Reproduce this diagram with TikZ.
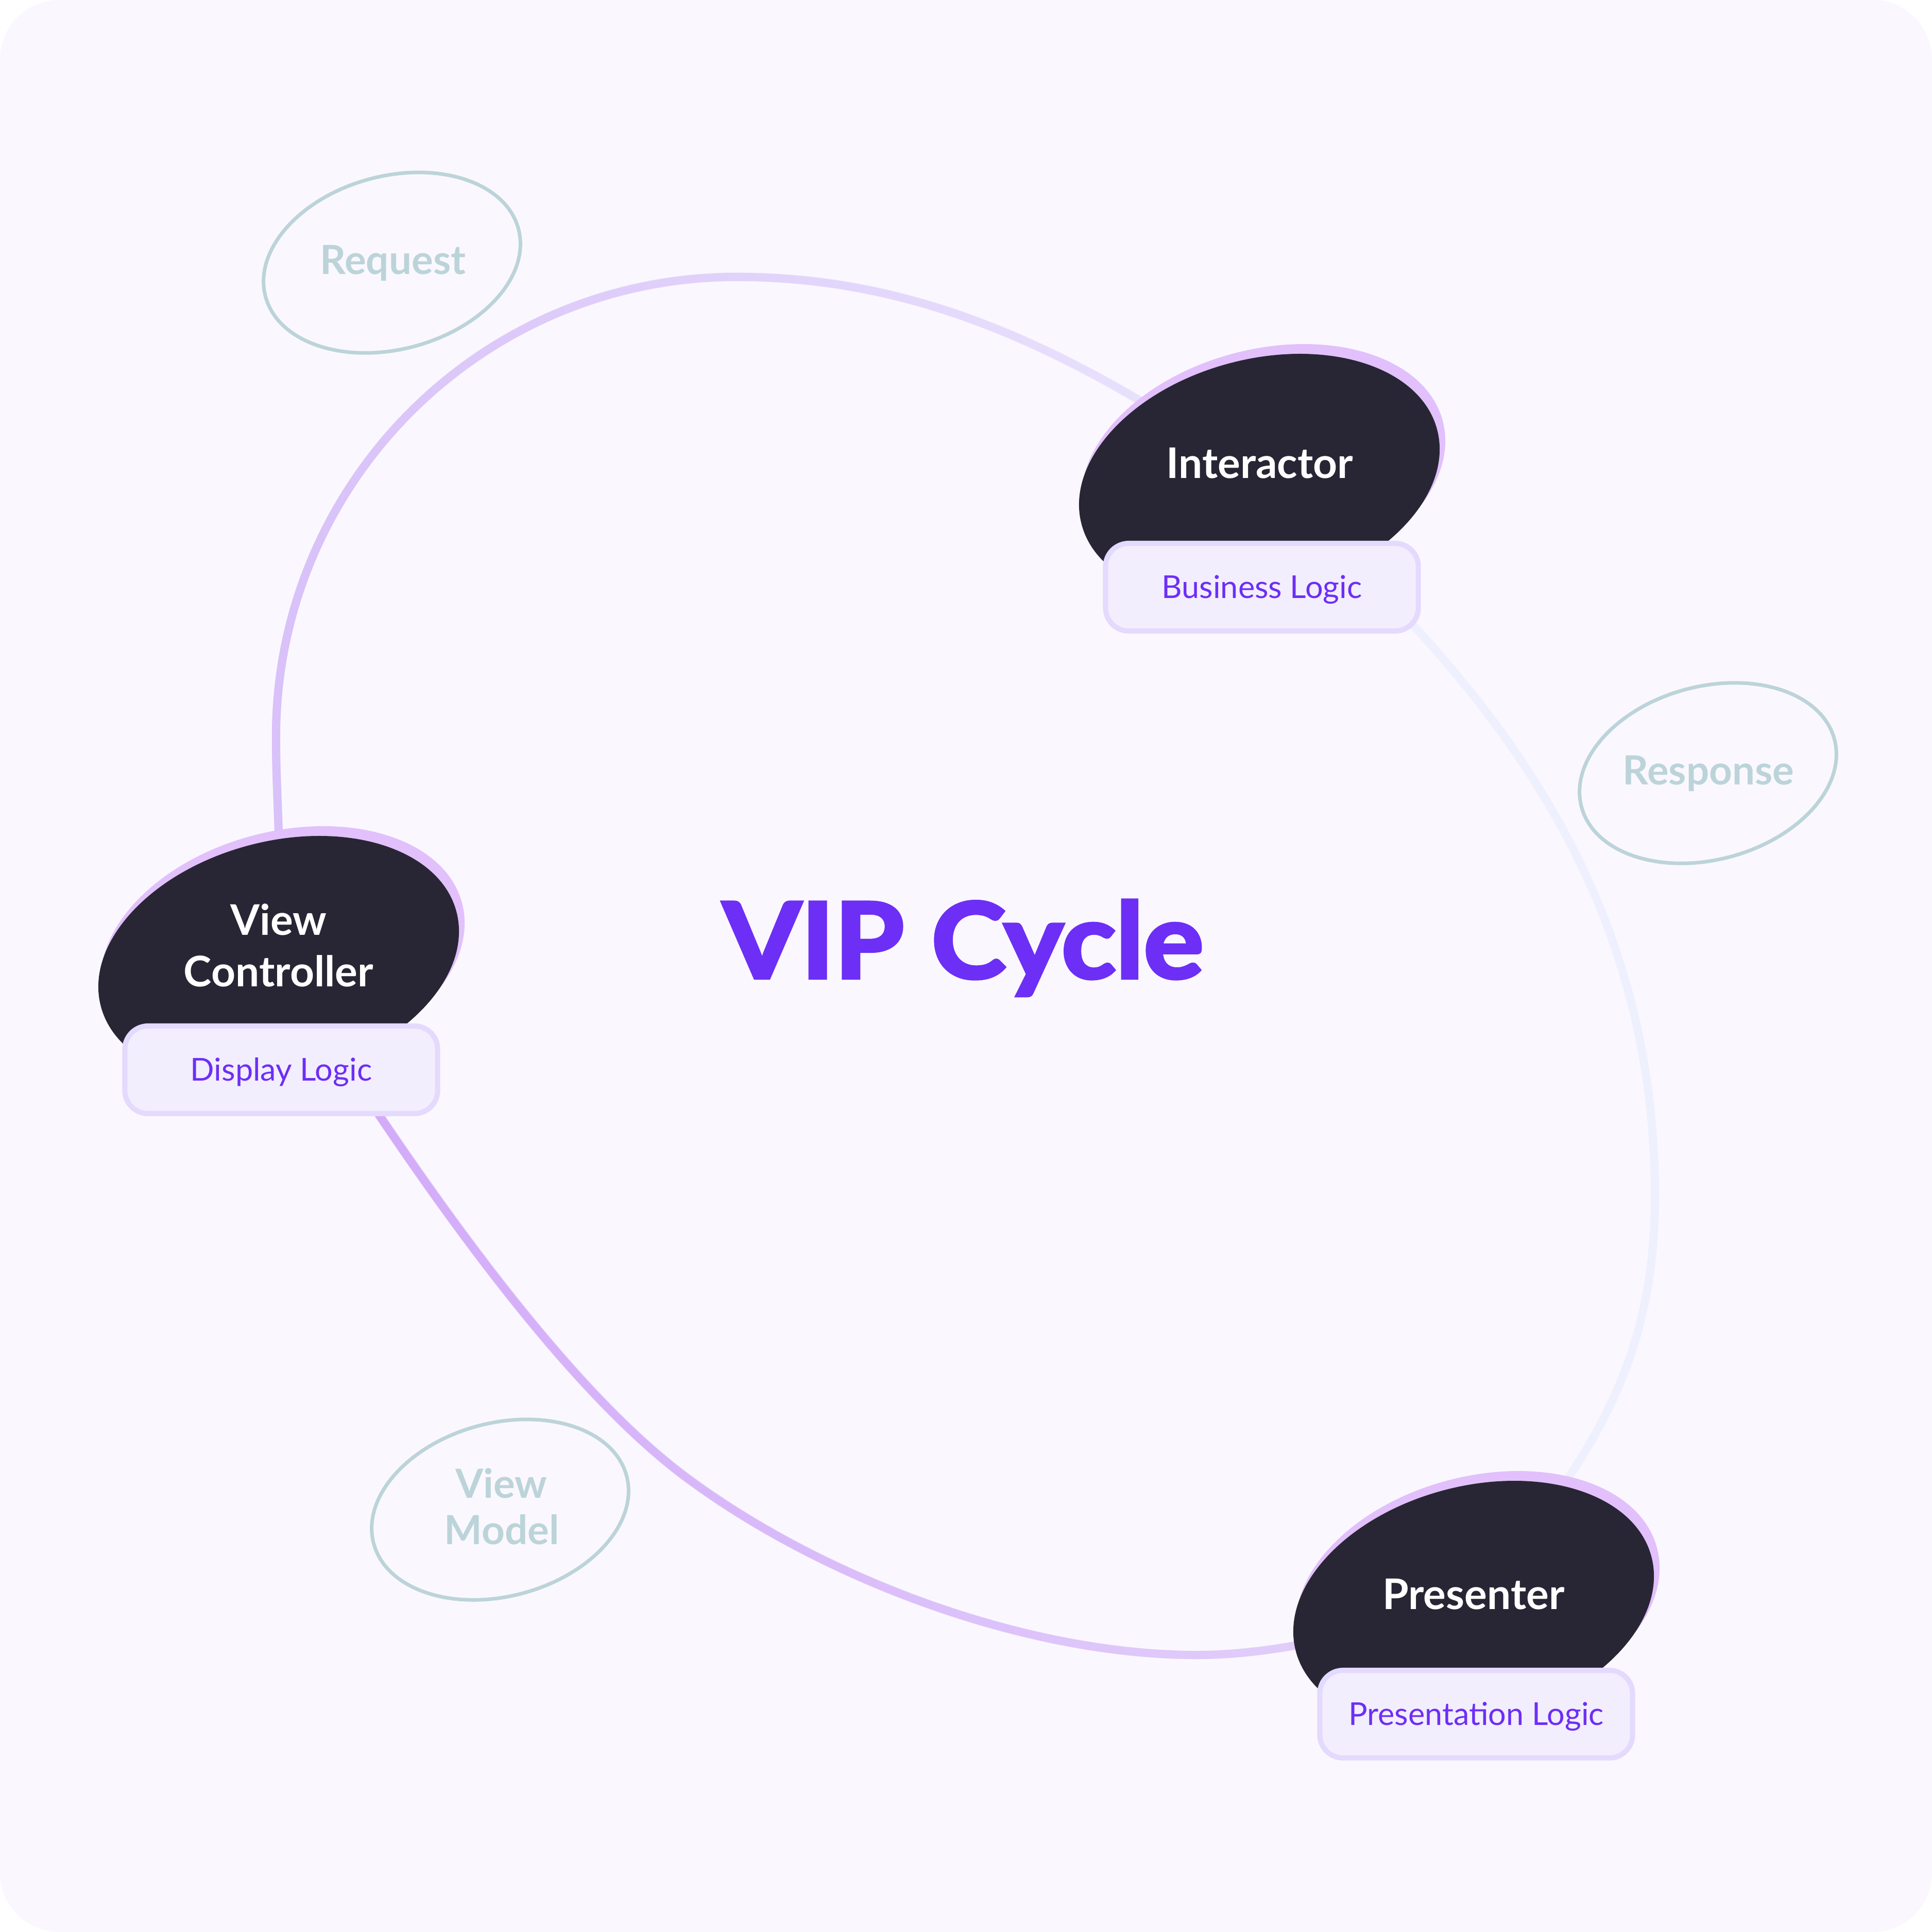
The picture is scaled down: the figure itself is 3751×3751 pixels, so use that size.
\documentclass[tikz,border=0pt]{standalone}
\usepackage{fontspec}
\setmainfont{Lato}
\newfontfamily\vipfont[FakeBold=3]{Lato}
\usetikzlibrary{shapes.geometric,fadings}
\definecolor{bgc}{HTML}{FAF8FE}
\definecolor{blobc}{HTML}{282634}
\definecolor{shc}{HTML}{E2C0FC}
\definecolor{boxfill}{HTML}{F2EEFE}
\definecolor{boxline}{HTML}{E3DAFD}
\definecolor{vip}{HTML}{6D2EF6}
\definecolor{tagc}{HTML}{BCD4D9}
\definecolor{leftA}{HTML}{D9C1F9}
\definecolor{leftB}{HTML}{EAE6FD}
\definecolor{rightc}{HTML}{EEF0FD}
\definecolor{botA}{HTML}{D2A8F9}
\definecolor{botB}{HTML}{E4D4FB}
\pgfdeclarelayer{back}
\pgfdeclarelayer{curves}
\pgfsetlayers{back,curves,main}
\tikzfading[name=fadeR, left color=transparent!0, right color=transparent!100]
\begin{document}
\begin{tikzpicture}[x=0.01cm,y=-0.01cm,
  blob/.style={ellipse, fill=blobc, inner sep=0pt, minimum width=7.14cm, minimum height=4.56cm, rotate=15},
  blobsh/.style={ellipse, fill=shc, inner sep=0pt, minimum width=7.20cm, minimum height=4.62cm, rotate=15},
  lbl/.style={text=white, font=\bfseries\fontsize{23.3}{28}\selectfont, inner sep=0pt, anchor=base},
  logic/.style={draw=boxline, fill=boxfill, line width=0.1cm, rounded corners=0.45cm, minimum width=6.07cm, minimum height=1.70cm, inner sep=0pt, text height=0.43cm, text depth=0cm, text=vip, font=\fontsize{17.4}{20}\selectfont},
  tag/.style={ellipse, draw=tagc, line width=0.07cm, inner sep=0pt, minimum width=5.08cm, minimum height=3.36cm, rotate=15},
  tagtext/.style={text=tagc, font=\bfseries\fontsize{22.2}{26}\selectfont, inner sep=0pt, anchor=base},
  arcline/.style={line width=0.16cm, line cap=round},
  fadearc/.style={path fading=fadeR}
]
\useasboundingbox (0,0) rectangle (3751,3751);
\begin{pgfonlayer}{back}
\fill[white] (0,0) rectangle (3751,3751);
\fill[bgc, rounded corners=1.15cm] (0,0) rectangle (3751,3751);
\end{pgfonlayer}

% tag ellipses
\node[tag] (reqe) at (761,510) {};
\node[tagtext] (req) at (763,532) {Request};
\node[tag] (rese) at (3316,1501) {};
\node[tagtext] (res) at (3317,1523) {Response};
\node[tag] (vme) at (971,2931) {};
\node[tagtext] (vm1) at (973,2908) {View};
\node[tagtext] (vm2) at (974,2998) {Model};

% blobs
\node[blobsh] (intsh) at (2453,910) {};
\node[blob] (int) at (2445,926) {};
\node[blobsh] (vcsh) at (549,1846) {};
\node[blob] (vc) at (541,1862) {};
\node[blobsh] (pressh) at (2869,3098) {};
\node[blob] (pres) at (2861,3114) {};

\node[lbl] (intlbl) at (2446,928) {Interactor};
\node[lbl] (vclbl1) at (541,1815) {View};
\node[lbl] (vclbl2) at (541,1915) {Controller};
\node[lbl] (preslbl) at (2861,3124) {Presenter};

\node[logic] (intbox) at (2450,1140) {Business Logic};
\node[logic] (vcbox) at (546,2077) {Display Logic};
\node[logic] (presbox) at (2866,3328) {Presentation Logic};

\node[text=vip, font=\vipfont\bfseries\fontsize{58}{66}\selectfont, inner sep=0pt, anchor=base, xscale=1.07] (title) at (1870,1899) {VIP Cycle};

\begin{pgfonlayer}{curves}
\draw[arcline, leftB] (vc.center) .. controls (548,1650) and (536,1560) .. (536,1430)
  .. controls (536,937) and (936,537) .. (1430,537)
  .. controls (1800,537) and (2100,690) .. (int.center);
\draw[arcline, leftA, fadearc] (vc.center) .. controls (548,1650) and (536,1560) .. (536,1430)
  .. controls (536,937) and (936,537) .. (1430,537)
  .. controls (1800,537) and (2100,690) .. (int.center);
\draw[arcline, rightc] (int.center) .. controls (2870,1300) and (3213,1700) .. (3213,2323)
  .. controls (3213,2680) and (3060,2860) .. (pres.center);
\draw[arcline, botB] (pres.center) .. controls (2661,3161) and (2500,3213) .. (2323,3213)
  .. controls (1993,3213) and (1598,3065) .. (1333,2868)
  .. controls (1068,2671) and (764,2218) .. (vc.center);
\draw[arcline, botA, fadearc] (pres.center) .. controls (2661,3161) and (2500,3213) .. (2323,3213)
  .. controls (1993,3213) and (1598,3065) .. (1333,2868)
  .. controls (1068,2671) and (764,2218) .. (vc.center);
\end{pgfonlayer}
\end{tikzpicture}
\end{document}
